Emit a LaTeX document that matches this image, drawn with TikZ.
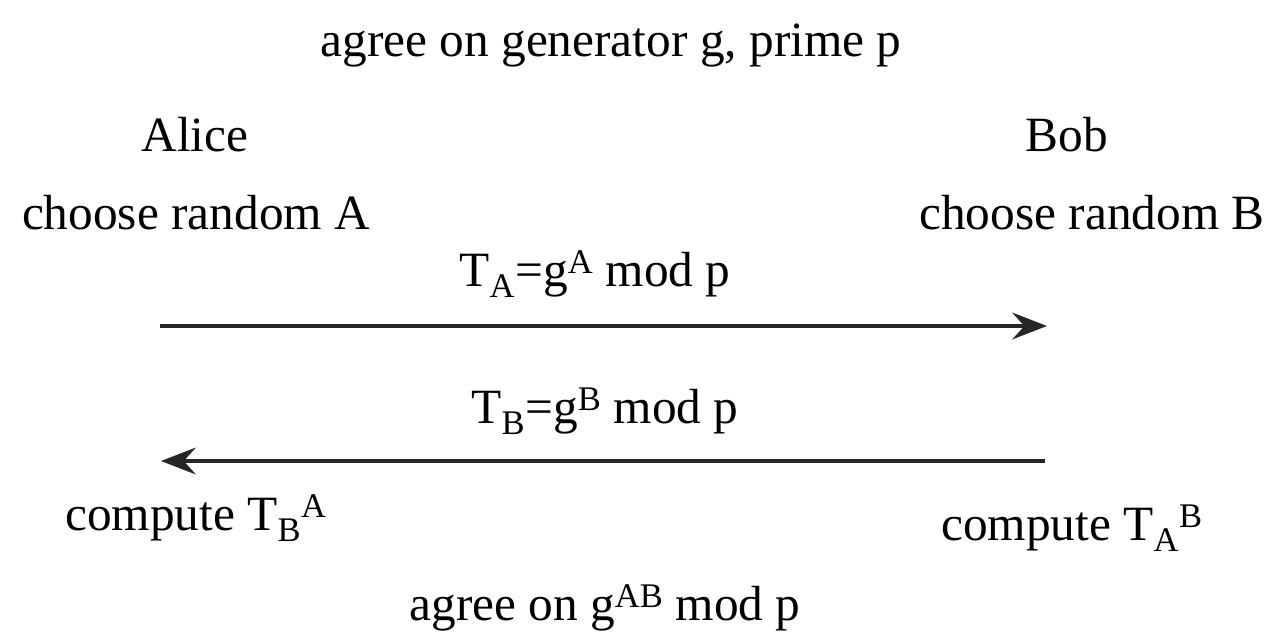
\documentclass[tikz,border=0pt]{standalone}
\usepackage{fontspec}
\setmainfont{Liberation Serif}
\usetikzlibrary{arrows.meta}
\begin{document}
\begin{tikzpicture}[x=0.75pt,y=-0.75pt,
  lbl/.style={anchor=base,inner sep=0pt,font=\fontsize{37}{42}\selectfont},
  msg/.style={line width=3pt,-{Stealth[length=26pt,width=20pt,inset=9pt]},draw=black!85}]
\useasboundingbox (0,0) rectangle (1280,642);
\node[lbl] (title) at (611,57) {agree on generator g, prime p};
\node[lbl] (alice) at (195,151) {Alice};
\node[lbl] (bob) at (1067,151) {Bob};
\node[lbl] (ca) at (196,229) {choose random A};
\node[lbl] (cb) at (1092,229) {choose random B};
\node[lbl] (ta) at (595,286) {T\textsubscript{A}=g\textsuperscript{A} mod p};
\coordinate (a1s) at (160,326);
\coordinate (a1e) at (1047,326);
\node[lbl] (tb) at (605,423) {T\textsubscript{B}=g\textsuperscript{B} mod p};
\coordinate (a2s) at (1045,461);
\coordinate (a2e) at (161,461);
\node[lbl] (compa) at (196,530) {compute T\textsubscript{B}\textsuperscript{A}};
\node[lbl] (compb) at (1072,540) {compute T\textsubscript{A}\textsuperscript{B}};
\node[lbl] (final) at (605,620) {agree on g\textsuperscript{AB} mod p};
\draw[msg] (a1s) -- (a1e);
\draw[msg] (a2s) -- (a2e);
\end{tikzpicture}
\end{document}
